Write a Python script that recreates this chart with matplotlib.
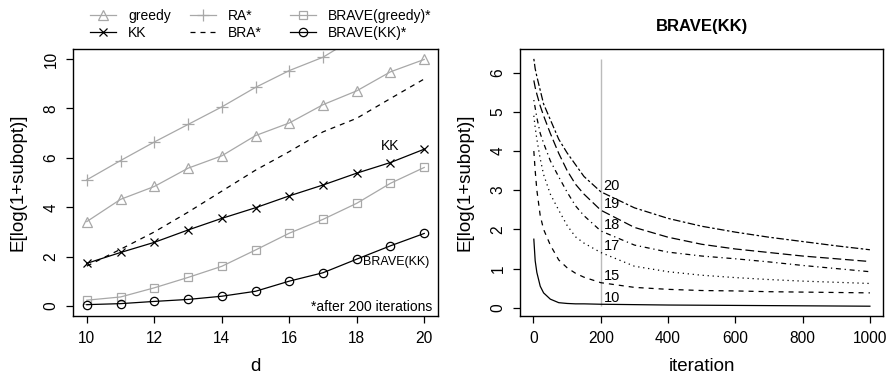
import matplotlib
matplotlib.use('Agg')
import matplotlib.pyplot as plt

plt.rcParams['font.family'] = ['Liberation Sans', 'DejaVu Sans']
plt.rcParams['lines.scale_dashes'] = False

# left panel: values after 200 iterations
d = [10, 11, 12, 13, 14, 15, 16, 17, 18, 19, 20]
greedy = [3.42, 4.32, 4.84, 5.58, 6.08, 6.90, 7.41, 8.15, 8.71, 9.48, 9.98]
kk = [1.73, 2.17, 2.58, 3.08, 3.55, 3.98, 4.46, 4.90, 5.38, 5.81, 6.35]
ra = [5.11, 5.89, 6.64, 7.35, 8.06, 8.85, 9.53, 10.07, 10.90]
bra = [1.62, 2.30, 3.00, 3.80, 4.65, 5.50, 6.25, 7.05, 7.60, 8.40, 9.19]
brave_greedy = [0.24, 0.37, 0.74, 1.16, 1.61, 2.27, 2.95, 3.51, 4.16, 4.97, 5.61]
brave_kk = [0.06, 0.10, 0.19, 0.27, 0.40, 0.60, 1.01, 1.35, 1.90, 2.44, 2.94]

# right panel: BRAVE(KK) convergence for several d
iters = [1, 5, 10, 20, 30, 50, 75, 100, 125, 150, 200, 300, 400, 500, 600, 700, 800, 900, 1000]
conv_10 = [1.75, 1.20, 0.90, 0.55, 0.38, 0.22, 0.13, 0.11, 0.10, 0.10, 0.09, 0.08, 0.07, 0.065, 0.06, 0.055, 0.05, 0.045, 0.04]
conv_15 = [4.00, 3.50, 3.00, 2.35, 2.00, 1.60, 1.22, 1.02, 0.88, 0.78, 0.64, 0.52, 0.47, 0.44, 0.43, 0.41, 0.40, 0.39, 0.38]
conv_17 = [4.90, 4.60, 4.30, 3.80, 3.40, 2.90, 2.49, 2.10, 1.81, 1.65, 1.41, 1.06, 0.92, 0.83, 0.77, 0.72, 0.68, 0.65, 0.62]
conv_18 = [5.30, 5.10, 4.85, 4.45, 4.20, 3.75, 3.34, 2.95, 2.60, 2.35, 1.96, 1.60, 1.42, 1.32, 1.25, 1.17, 1.08, 1.00, 0.92]
conv_19 = [5.80, 5.62, 5.45, 5.15, 4.90, 4.45, 3.94, 3.50, 3.15, 2.90, 2.49, 2.05, 1.80, 1.62, 1.50, 1.41, 1.32, 1.25, 1.18]
conv_20 = [6.35, 6.10, 5.90, 5.55, 5.20, 4.80, 4.30, 3.95, 3.65, 3.35, 2.96, 2.55, 2.28, 2.08, 1.93, 1.80, 1.69, 1.58, 1.48]
conv_d = [10, 15, 17, 18, 19, 20]
cut_iter = 200

GRAY = '#A8A8A8'
u = 0.9
dash = {10: '-', 15: (0, (4*u, 4*u)), 17: (0, (1*u, 3*u)), 18: (0, (1*u, 3*u, 4*u, 3*u)),
        19: (0, (7*u, 3*u)), 20: (0, (2*u, 2*u, 6*u, 2*u))}

fig = plt.figure(figsize=(8.94, 3.77), dpi=100)
ax1 = fig.add_axes([0.082, 0.1618, 0.4076, 0.708])
ax2 = fig.add_axes([0.5817, 0.1618, 0.4064, 0.708])

lw = 0.9
h_greedy, = ax1.plot(d, greedy, color=GRAY, lw=lw, marker='^', ms=7, mfc='none', mec=GRAY, mew=0.9)
h_ra, = ax1.plot(d[:len(ra)], ra, color=GRAY, lw=lw, marker='+', ms=9, mec=GRAY, mew=0.9)
h_bg, = ax1.plot(d, brave_greedy, color=GRAY, lw=lw, marker='s', ms=6, mfc='none', mec=GRAY, mew=0.9)
h_bra, = ax1.plot(d, bra, color='black', lw=lw, ls=dash[15])
h_kk, = ax1.plot(d, kk, color='black', lw=lw, marker='x', ms=6, mew=0.9)
h_bk, = ax1.plot(d, brave_kk, color='black', lw=lw, marker='o', ms=6, mfc='none', mew=0.9)

ax1.set_xlim(9.6, 20.4)
ax1.set_ylim(-0.4, 10.4)
ax1.set_xticks([10, 12, 14, 16, 18, 20])
ax1.set_yticks([0, 2, 4, 6, 8, 10])
ax1.set_xlabel('d', fontsize=13.5)
ax1.set_ylabel('E[log(1+subopt)]', fontsize=13.5)
ax1.text(19.0, 6.46, 'KK', fontsize=10, ha='center', va='center')
ax1.text(18.2, 1.77, 'BRAVE(KK)', fontsize=9, ha='left', va='center')
ax1.text(0.984, 0.035, '*after 200 iterations', fontsize=10, ha='right', va='center',
         transform=ax1.transAxes)

# right panel
conv = [conv_10, conv_15, conv_17, conv_18, conv_19, conv_20]
all_vals = [v for c in conv for v in c]
ax2.vlines(cut_iter, min(all_vals), max(all_vals), color='#BBBBBB', lw=1.0)
for k, c in zip(conv_d, conv):
    ax2.plot(iters, c, color='black', lw=lw, ls=dash[k])
    y200 = c[iters.index(cut_iter)]
    ax2.annotate(str(k), (cut_iter, y200), xytext=(2, 4.5), textcoords='offset points',
                 fontsize=10.5, ha='left', va='center')

ax2.set_xlim(-40, 1040)
ax2.set_ylim(-0.21, 6.6)
ax2.set_xticks([0, 200, 400, 600, 800, 1000])
ax2.set_yticks([0, 1, 2, 3, 4, 5, 6])
ax2.set_xlabel('iteration', fontsize=13.5)
ax2.set_ylabel('E[log(1+subopt)]', fontsize=13.5)
ax2.set_title('BRAVE(KK)', fontsize=12, fontweight='bold', pad=13)

for ax in (ax1, ax2):
    for s in ax.spines.values():
        s.set_linewidth(1.0)
    ax.tick_params(direction='out', length=5, width=0.9, labelsize=11.2, pad=5.5)
    for t in ax.get_yticklabels():
        t.set_rotation(90)
        t.set_va('center')
    ax.xaxis.label.set_va('center')
    ax.yaxis.label.set_va('center')
ax1.xaxis.set_label_coords(0.5, -0.191)
ax1.yaxis.set_label_coords(-0.152, 0.5)
ax2.xaxis.set_label_coords(0.5, -0.191)
ax2.yaxis.set_label_coords(-0.151, 0.5)

# legend in three columns above the left panel
cols = [([h_greedy, h_kk], ['greedy', 'KK'], 90),
        ([h_ra, h_bra], ['RA*', 'BRA*'], 190),
        ([h_bg, h_bk], ['BRAVE(greedy)*', 'BRAVE(KK)*'], 290)]
for hs, ls_, xpx in cols:
    fig.legend(hs, ls_, loc='upper left', bbox_to_anchor=(xpx / 894, 1 - 9 / 377),
               frameon=False, fontsize=10, handlelength=1.85, handletextpad=0.9,
               borderpad=0, borderaxespad=0, labelspacing=0.2, numpoints=1)

fig.savefig('out.png', dpi=100)
